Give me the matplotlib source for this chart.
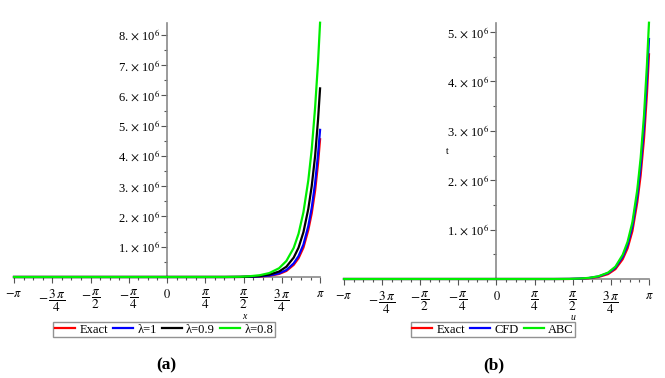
import numpy as np
import matplotlib
matplotlib.use("Agg")
import matplotlib.pyplot as plt
from matplotlib.ticker import FixedLocator, MultipleLocator

plt.rcParams['font.family'] = 'serif'
plt.rcParams['font.serif'] = ['Liberation Serif', 'DejaVu Serif']
plt.rcParams['mathtext.fontset'] = 'stix'

PI = np.pi

# x positions (same for all curves)
x_vals = [-PI, 0.0, 1.2, 1.5, 1.7, 1.9, 2.1, 2.3, 2.45, 2.6, 2.7, 2.8, 2.9, 2.97, 3.04, 3.1, PI]

# panel (a), values in units of 1e6
exact_a = [0, 0, 0, 0.001, 0.005, 0.015, 0.04, 0.10, 0.20, 0.40, 0.62, 0.97, 1.55, 2.10, 2.85, 3.75, 4.55]
lam_1 = [0, 0, 0, 0.002, 0.008, 0.020, 0.05, 0.12, 0.23, 0.45, 0.69, 1.07, 1.68, 2.28, 3.10, 4.05, 4.86]
lam_09 = [0, 0, 0, 0.003, 0.012, 0.030, 0.08, 0.18, 0.34, 0.64, 0.97, 1.48, 2.25, 3.00, 4.00, 5.20, 6.23]
lam_08 = [0, 0, 0.002, 0.008, 0.026, 0.058, 0.13, 0.29, 0.53, 0.96, 1.43, 2.14, 3.19, 4.21, 5.60, 7.10, 8.40]

# panel (b), values in units of 1e6
exact_b = [0, 0, 0, 0.001, 0.005, 0.015, 0.04, 0.10, 0.20, 0.40, 0.62, 0.97, 1.55, 2.10, 2.85, 3.75, 4.55]
cfd = [0, 0, 0, 0.002, 0.008, 0.020, 0.05, 0.12, 0.23, 0.45, 0.69, 1.07, 1.68, 2.28, 3.10, 4.05, 4.86]
abc = [0, 0, 0, 0.002, 0.009, 0.022, 0.055, 0.13, 0.25, 0.49, 0.75, 1.15, 1.80, 2.45, 3.32, 4.34, 5.19]

x_ticks = [-PI, -3 * PI / 4, -PI / 2, -PI / 4, 0, PI / 4, PI / 2, 3 * PI / 4, PI]
x_labels = [r'$-\pi$', r'$-\,\dfrac{3\,\pi}{4}$', r'$-\,\dfrac{\pi}{2}$', r'$-\,\dfrac{\pi}{4}$', r'$0$',
            r'$\dfrac{\pi}{4}$', r'$\dfrac{\pi}{2}$', r'$\dfrac{3\,\pi}{4}$', r'$\pi$']

SCALE = 1e6
AXIS_GREY = '#8a8a8a'


def setup_axes(ax, n_yticks, ymax):
    ax.set_xlim(-PI, PI)
    ax.set_ylim(0, ymax)
    for side in ['top', 'right']:
        ax.spines[side].set_visible(False)
    ax.spines['left'].set_position(('data', 0))
    for side in ['left', 'bottom']:
        ax.spines[side].set_color(AXIS_GREY)
        ax.spines[side].set_linewidth(1.2)
    ax.xaxis.set_major_locator(FixedLocator(x_ticks))
    ax.set_xticklabels(x_labels)
    # fractions get a bigger size so numerator/denominator match the plain labels
    for lab in ax.get_xticklabels():
        if 'frac' in lab.get_text():
            lab.set_fontsize(9.5)
        else:
            lab.set_fontsize(9)
    ax.xaxis.set_minor_locator(MultipleLocator(PI / 16))
    yt = [i * SCALE for i in range(1, n_yticks + 1)]
    ax.yaxis.set_major_locator(FixedLocator(yt))
    ax.set_yticklabels([r'%d. $\times$ 10$^{6}$' % i for i in range(1, n_yticks + 1)], fontsize=9)
    ax.yaxis.set_minor_locator(MultipleLocator(0.5 * SCALE))
    ax.tick_params(axis='both', which='both', direction='out', color='#555555', width=0.8)
    ax.tick_params(axis='both', which='major', length=4)
    ax.tick_params(axis='both', which='minor', length=2.5)
    ax.tick_params(axis='y', pad=1)
    ax.tick_params(axis='x', pad=4)
    ax.set_facecolor('none')


def add_legend(ax, ncol, xc):
    leg = ax.legend(loc='center', bbox_to_anchor=(xc, 0.1278), bbox_transform=fig.transFigure,
                    ncol=ncol, fontsize=9, frameon=True, fancybox=False, edgecolor='#777777',
                    handlelength=1.6, handletextpad=0.35, columnspacing=0.4, borderpad=0.12,
                    borderaxespad=0)
    leg.get_frame().set_linewidth(1.0)
    return leg


fig = plt.figure(figsize=(6.65, 3.78), dpi=100)

# panel (a)
ax1 = fig.add_axes([0.0211, 0.2672, 0.4602, 0.6727])
x = np.array(x_vals)
series_a = [(exact_a, 'red', 'Exact'), (lam_1, 'blue', 'λ=1'),
            (lam_09, 'black', 'λ=0.9'), (lam_08, '#00ee00', 'λ=0.8')]
for vals, col, lab in series_a:
    ax1.plot(x, np.array(vals) * SCALE, color=col, lw=1.6, label=lab, clip_on=False, zorder=3)
setup_axes(ax1, 8, max(lam_08) * SCALE)
add_legend(ax1, 4, 0.2466)
fig.text(0.3669, 0.1640, 'x', fontsize=7, style='italic', ha='center', va='center')
fig.text(0.2496, 0.0344, '(a)', fontsize=12.5, fontweight='bold', ha='center', va='center')

# panel (b)
ax2 = fig.add_axes([0.5173, 0.2619, 0.4586, 0.678])
series_b = [(exact_b, 'red', 'Exact'), (cfd, 'blue', 'CFD'), (abc, '#00ee00', 'ABC')]
for vals, col, lab in series_b:
    ax2.plot(x, np.array(vals) * SCALE, color=col, lw=1.6, label=lab, clip_on=False, zorder=3)
setup_axes(ax2, 5, max(abc) * SCALE)
add_legend(ax2, 3, 0.7411)
fig.text(0.8612, 0.1600, 'u', fontsize=7, style='italic', ha='center', va='center')
fig.text(0.6722, 0.6005, 't', fontsize=7, ha='center', va='center')
fig.text(0.7429, 0.0344, '(b)', fontsize=12.5, fontweight='bold', ha='center', va='center')

fig.savefig('out.png', dpi=100)
